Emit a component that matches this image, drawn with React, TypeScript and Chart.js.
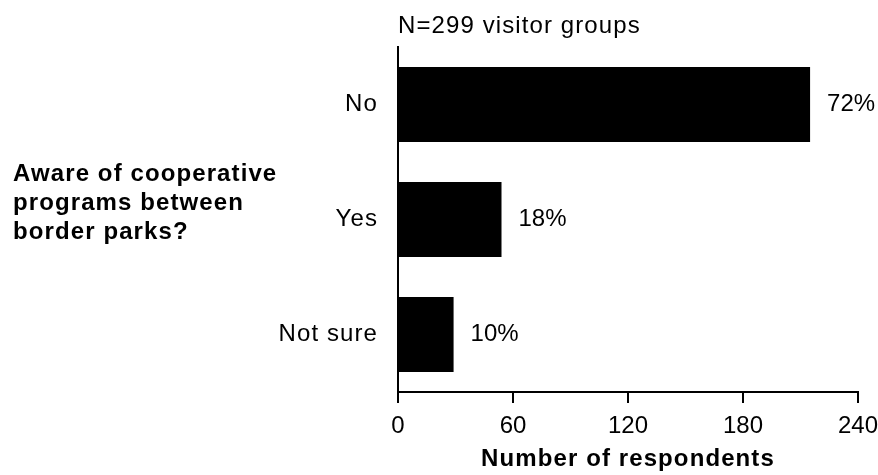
import React, { useEffect, useRef } from "react";
import { Chart, registerables } from "chart.js";

Chart.register(...registerables);

const categories = ["No", "Yes", "Not sure"];
const respondents = [215, 54, 29];
const percentLabels = ["72%", "18%", "10%"];
const xTicks = [0, 60, 120, 180, 240];
const chartTitle = "N=299 visitor groups";
const xAxisTitle = "Number of respondents";
const questionLines = ["Aware of cooperative", "programs between", "border parks?"];

const FAMILY = "'Liberation Sans', Arial, Helvetica, sans-serif";
const WORD_SPACING = "1.1px";

export default function App() {
  const ref = useRef<HTMLCanvasElement | null>(null);

  useEffect(() => {
    if (!ref.current) return;
    const labelPlugin = {
      id: "extraText",
      beforeDraw(chart: any) {
        (chart.ctx as any).letterSpacing = WORD_SPACING;
      },
      afterDatasetsDraw(chart: any) {
        const ctx = chart.ctx;
        const meta = chart.getDatasetMeta(0);
        ctx.save();
        ctx.fillStyle = "#000";
        ctx.font = `24px ${FAMILY}`;
        ctx.textAlign = "left";
        ctx.textBaseline = "middle";
        (ctx as any).letterSpacing = "0px";
        meta.data.forEach((bar: any, i: number) => {
          ctx.fillText(percentLabels[i], bar.x + 17, bar.y);
        });
        const ys = chart.scales.y;
        const mid = (ys.top + ys.bottom) / 2;
        ctx.font = `bold 24px ${FAMILY}`;
        ctx.textBaseline = "alphabetic";
        (ctx as any).letterSpacing = WORD_SPACING;
        questionLines.forEach((line, i) => {
          ctx.fillText(line, 13, mid - 38.5 + i * 29);
        });
        ctx.restore();
        // numeric tick labels (drawn in a later layer) use normal spacing
        (ctx as any).letterSpacing = "0px";
      },
    };

    const chart = new Chart(ref.current, {
      type: "bar",
      data: {
        labels: categories,
        datasets: [
          {
            data: respondents,
            backgroundColor: "#000",
            borderWidth: 0,
            categoryPercentage: 1,
            barPercentage: 0.652,
          },
        ],
      },
      options: {
        indexAxis: "y",
        responsive: false,
        animation: false,
        layout: { padding: { left: 0, right: 20, top: 0, bottom: 0 } },
        plugins: {
          legend: { display: false },
          tooltip: { enabled: false },
          title: {
            display: true,
            text: chartTitle,
            align: "start",
            fullSize: false,
            color: "#000",
            font: { family: FAMILY, size: 24, weight: "normal" },
            padding: { top: 11.5, bottom: 6.7 },
          },
        },
        scales: {
          x: {
            type: "linear",
            min: 0,
            max: 240,
            afterBuildTicks: (s: any) => {
              s.ticks = xTicks.map((v) => ({ value: v }));
            },
            afterFit: (s: any) => {
              s.height = 83;
              s.paddingRight = 0;
              s.paddingLeft = 0;
            },
            grid: {
              display: true,
              drawOnChartArea: false,
              drawTicks: true,
              tickLength: 11,
              color: "#000",
              lineWidth: 2,
            },
            border: { display: true, color: "#000", width: 2 },
            ticks: {
              color: "#000",
              padding: 9,
              maxRotation: 0,
              z: 1,
              font: { family: FAMILY, size: 24 },
            },
            title: {
              display: true,
              text: xAxisTitle,
              color: "#000",
              font: { family: FAMILY, size: 24, weight: "bold" },
              padding: { top: 0, bottom: 1.5 },
            },
          },
          y: {
            type: "category",
            offset: true,
            afterFit: (s: any) => {
              s.width = 398;
            },
            grid: { display: false, drawTicks: false },
            border: { display: true, color: "#000", width: 2 },
            ticks: {
              color: "#000",
              padding: 20,
              font: { family: FAMILY, size: 24 },
            },
          },
        },
      },
      plugins: [labelPlugin],
    });
    return () => chart.destroy();
  }, []);

  return (
    <div style={{ position: "absolute", left: 0, top: 0, width: 878, height: 475, background: "#fff" }}>
      <canvas ref={ref} width={878} height={475} style={{ display: "block" }} />
    </div>
  );
}
